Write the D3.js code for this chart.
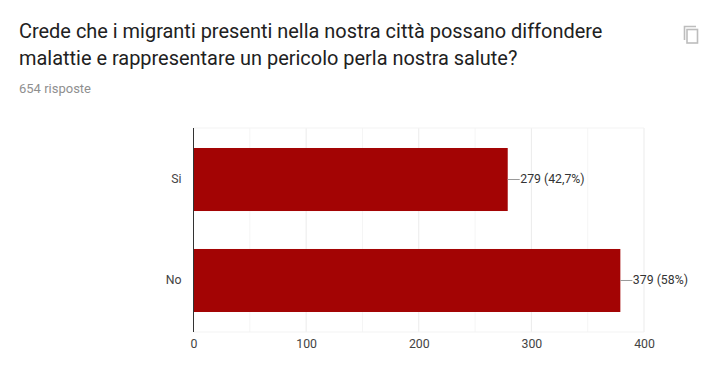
<!DOCTYPE html>
<html>
<head>
<meta charset="utf-8">
<script src="https://cdn.jsdelivr.net/npm/d3@7"></script>
<style>
    body { margin: 0; background: #fff; }
    text { font-family: Roboto, sans-serif; }
</style>
</head>
<body>
<div id="chart"></div>
<script>
const titleLines = [
    "Crede che i migranti presenti nella nostra città possano diffondere",
    "malattie e rappresentare un pericolo perla nostra salute?"
];
const subtitle = "654 risposte";
const categories = ["Si", "No"];
const counts = [279, 379];
const percents = ["42,7%", "58%"];
const majorTicks = [0, 100, 200, 300, 400];
const minorTicks = [50, 150, 250, 350];

const width = 710;
const height = 388;
const padding = {top: 128, right: 66, bottom: 56, left: 193.5};

const svg = d3.select("#chart")
    .append("svg")
    .attr("width", width)
    .attr("height", height)
    .style("display", "block");

svg.selectAll(".title")
    .data(titleLines)
    .enter()
    .append("text")
    .attr("class", "title")
    .attr("x", 19)
    .attr("y", (d, i) => 38 + i * 27)
    .attr("font-size", 19.95)
    .attr("fill", "#212121")
    .text(d => d);

svg.append("text")
    .attr("x", 19)
    .attr("y", 93)
    .attr("font-size", 13)
    .attr("fill", "#8f8f8f")
    .text(subtitle);

// copy icon, top right
const icon = svg.append("g").attr("fill", "none").attr("stroke", "#bdbdbd").attr("stroke-width", 1.6);
icon.append("path").attr("d", "M696 26.5H684.5V40");
icon.append("rect").attr("x", 687).attr("y", 29.5).attr("width", 10.5).attr("height", 13.5);

const x = d3.scaleLinear()
    .domain([0, 400])
    .range([padding.left, width - padding.right]);

const y = d3.scaleBand()
    .domain(categories)
    .range([padding.top, height - padding.bottom])
    .paddingInner(0.376)
    .paddingOuter(0.198);

svg.selectAll(".minor")
    .data(minorTicks)
    .enter()
    .append("line")
    .attr("x1", d => x(d))
    .attr("x2", d => x(d))
    .attr("y1", padding.top)
    .attr("y2", height - padding.bottom)
    .attr("stroke", "#f5f5f5");

svg.selectAll(".major")
    .data(majorTicks.slice(1))
    .enter()
    .append("line")
    .attr("x1", d => x(d))
    .attr("x2", d => x(d))
    .attr("y1", padding.top)
    .attr("y2", height - padding.bottom)
    .attr("stroke", "#ebebeb");

// top and bottom edges of the plot
svg.selectAll(".edge")
    .data([padding.top, height - padding.bottom])
    .enter()
    .append("line")
    .attr("x1", padding.left)
    .attr("x2", width - padding.right)
    .attr("y1", d => d)
    .attr("y2", d => d)
    .attr("stroke", "#f3f3f3");

const xAxis = d3.axisBottom(x).tickValues(majorTicks).tickSize(0).tickPadding(7);
const gx = svg.append("g")
    .attr("transform", `translate(0,${height - padding.bottom})`)
    .call(xAxis);
gx.select(".domain").remove();
gx.selectAll("text").attr("font-size", 12.3).attr("fill", "#444").style("font-family", "Roboto, sans-serif");

const yAxis = d3.axisLeft(y).tickSize(0).tickPadding(12);
const gy = svg.append("g")
    .attr("transform", `translate(${padding.left},0)`)
    .call(yAxis);
gy.select(".domain").remove();
gy.selectAll("text").attr("font-size", 12.3).attr("fill", "#444").style("font-family", "Roboto, sans-serif");

svg.selectAll(".bar")
    .data(counts)
    .enter()
    .append("rect")
    .attr("class", "bar")
    .attr("x", x(0))
    .attr("y", (d, i) => y(categories[i]))
    .attr("width", d => x(d) - x(0))
    .attr("height", y.bandwidth())
    .attr("fill", "#a30404");

svg.append("line")
    .attr("x1", x(0))
    .attr("x2", x(0))
    .attr("y1", padding.top)
    .attr("y2", height - padding.bottom)
    .attr("stroke", "#333");

// leader line and label next to each bar
svg.selectAll(".leader")
    .data(counts)
    .enter()
    .append("line")
    .attr("x1", d => x(d))
    .attr("x2", d => x(d) + 12)
    .attr("y1", (d, i) => y(categories[i]) + y.bandwidth() / 2)
    .attr("y2", (d, i) => y(categories[i]) + y.bandwidth() / 2)
    .attr("stroke", "#999");

svg.selectAll(".label")
    .data(counts)
    .enter()
    .append("text")
    .attr("class", "label")
    .attr("x", d => x(d) + 12.5)
    .attr("y", (d, i) => y(categories[i]) + y.bandwidth() / 2 + 3.5)
    .attr("font-size", 12.3)
    .attr("fill", "#333")
    .text((d, i) => `${d} (${percents[i]})`);
</script>
</body>
</html>
